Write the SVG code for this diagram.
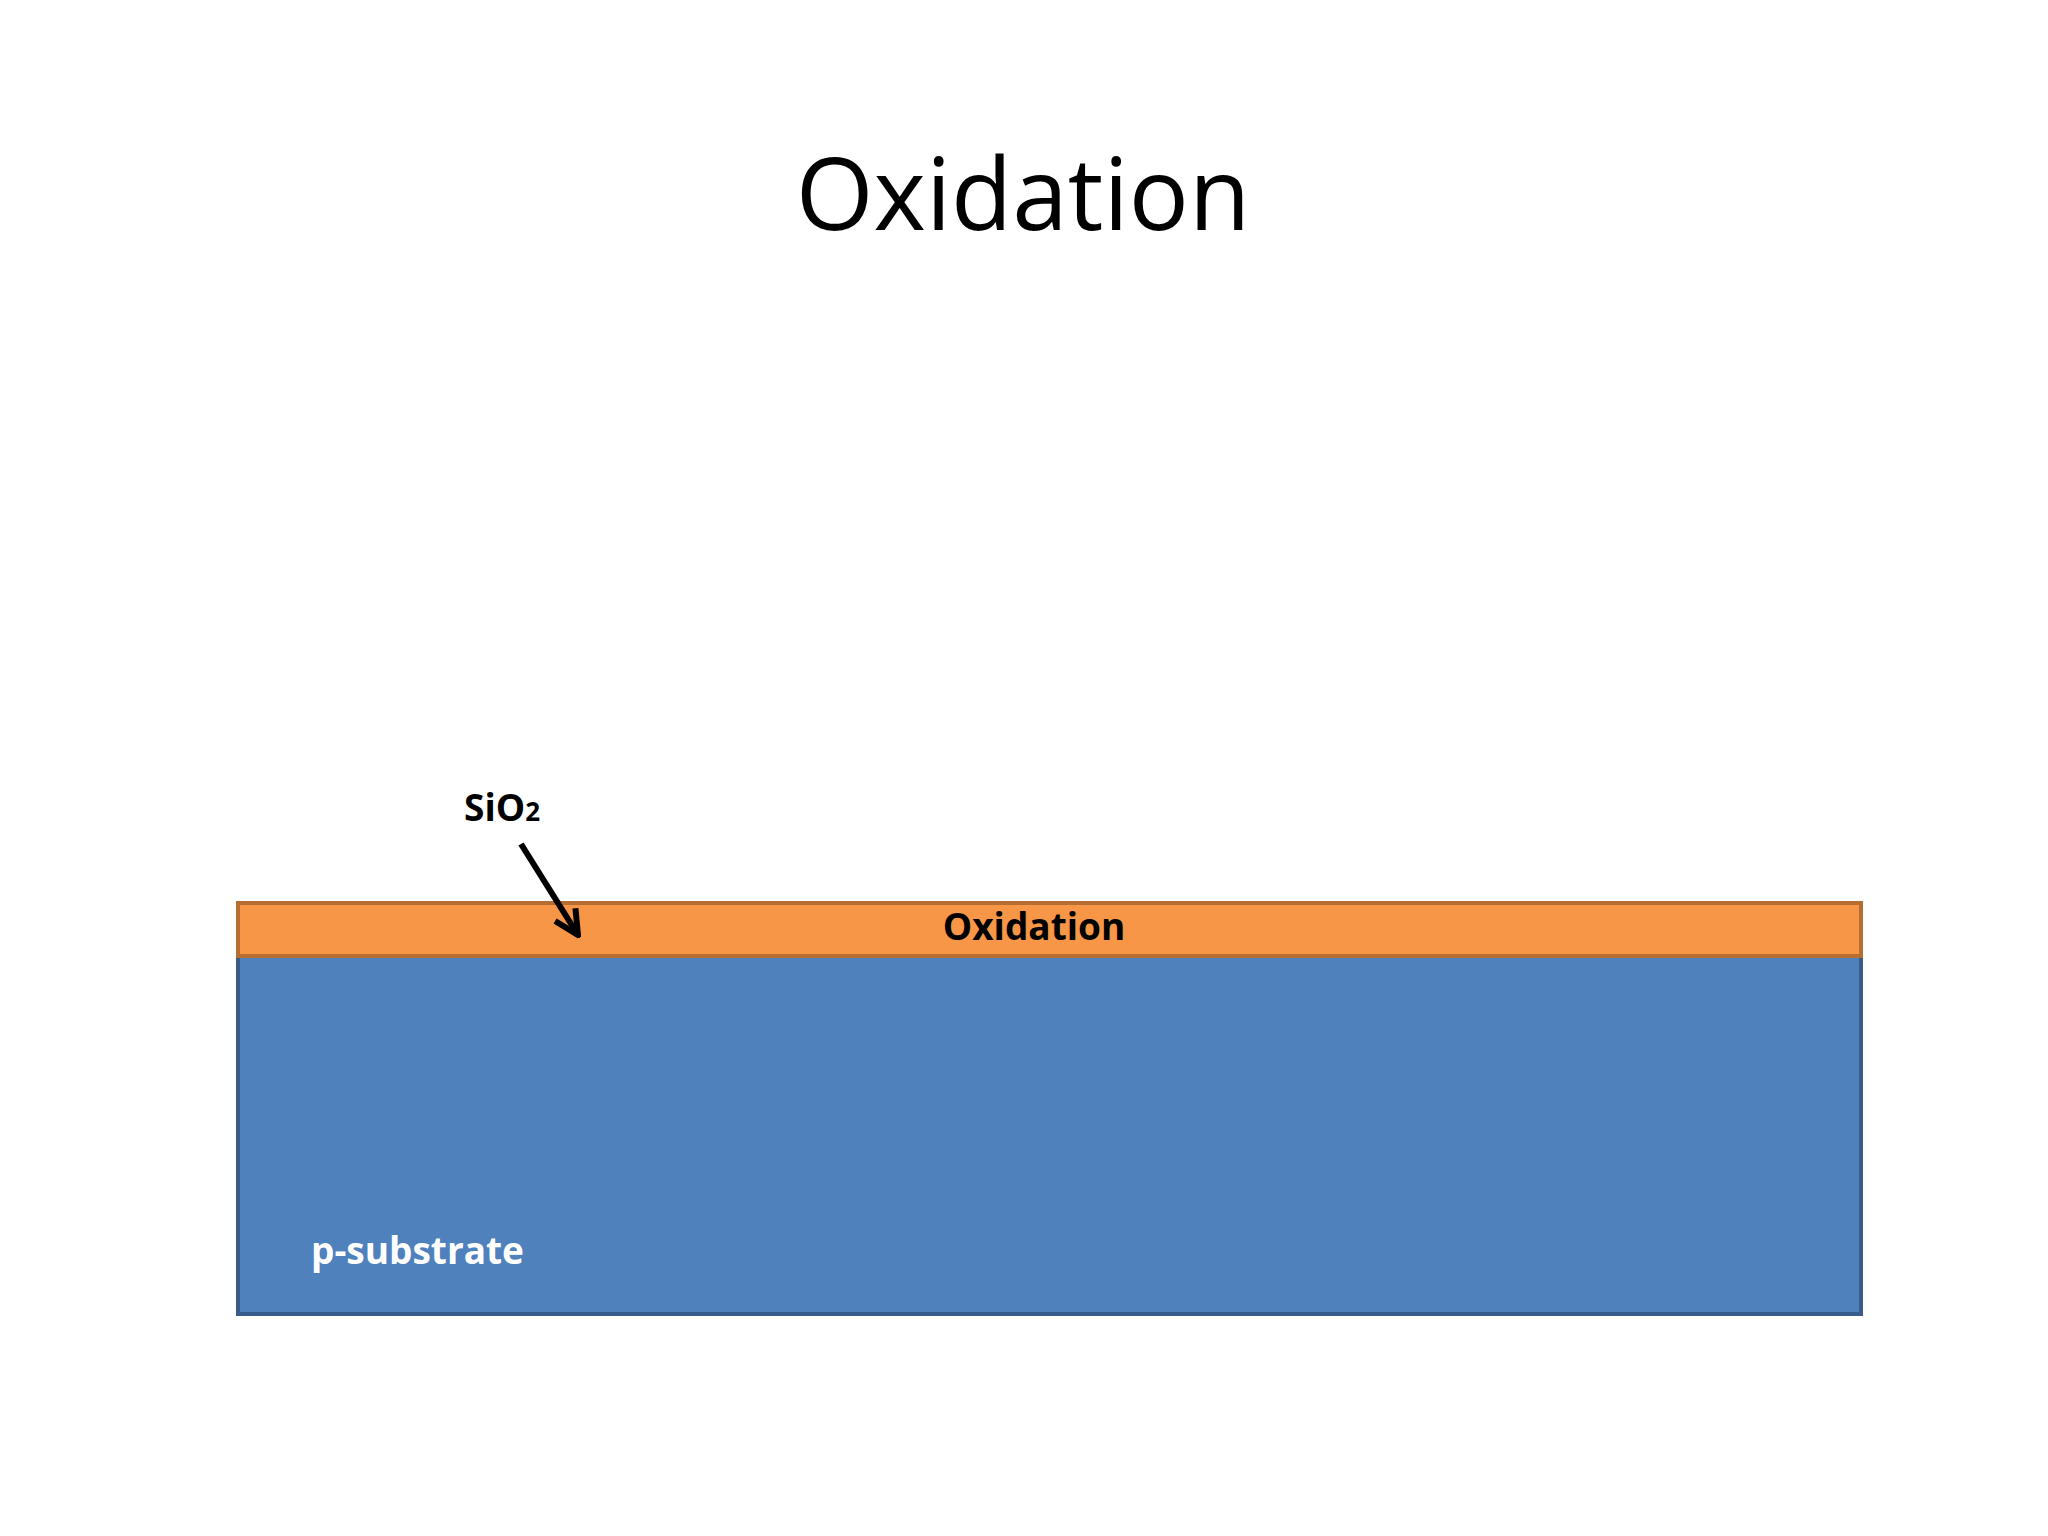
<svg xmlns="http://www.w3.org/2000/svg" width="2048" height="1536" viewBox="0 0 2048 1536">
<defs>
<marker id="ah" viewBox="0 0 10 10" refX="9" refY="5" markerWidth="5" markerHeight="5" orient="auto"><path d="M1,1 L9,5 L1,9" fill="none" stroke="#000" stroke-width="2"/></marker>
<style>.b{font-family:"Open Sans","Noto Sans",sans-serif;font-weight:bold;font-size:37px}</style>
</defs>
<rect width="2048" height="1536" fill="#fff"/>
<text x="1023" y="230" text-anchor="middle" font-family="Open Sans, Noto Sans, sans-serif" font-size="100" fill="#000">Oxidation</text>
<g id="substrate"><rect x="238" y="956" width="1623" height="358" fill="#4f81bd" stroke="#385d8a" stroke-width="4"/>
<text class="b" x="311" y="1264" fill="#fff">p-substrate</text></g>
<g id="oxide"><rect x="238" y="903" width="1623" height="53" fill="#f79646" stroke="#b66d31" stroke-width="4"/>
<text class="b" x="1034" y="940" text-anchor="middle" fill="#000">Oxidation</text></g>
<g id="label"><text class="b" x="464" y="821" fill="#000">SiO<tspan font-size="26">2</tspan></text></g>
<g id="connectors"><line x1="521" y1="844" x2="578" y2="935" stroke="#000" stroke-width="6" marker-end="url(#ah)"/></g>
</svg>
